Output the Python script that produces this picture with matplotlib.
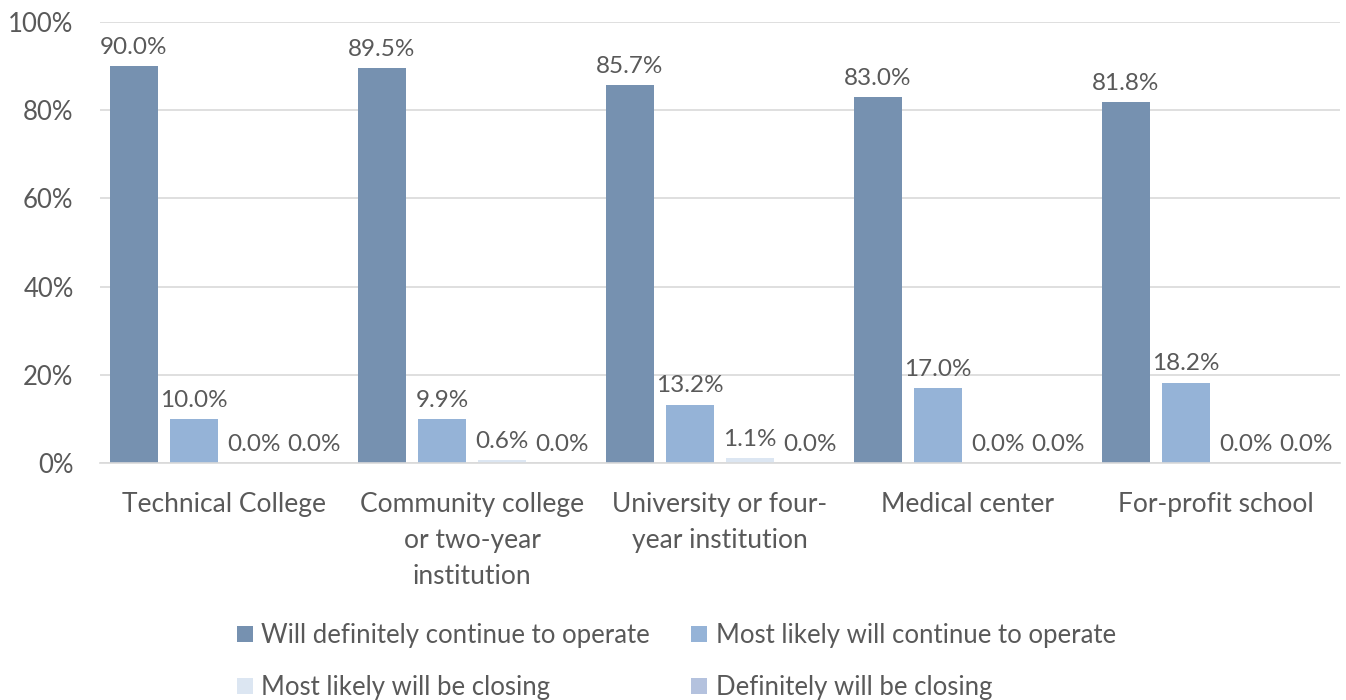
import numpy as np
import matplotlib.pyplot as plt

plt.rcParams['font.family'] = ['Lato', 'DejaVu Sans']

categories = ['Technical College', 'Community college\nor two-year\ninstitution',
              'University or four-\nyear institution', 'Medical center', 'For-profit school']
series = ['Will definitely continue to operate', 'Most likely will continue to operate',
          'Most likely will be closing', 'Definitely will be closing']
definitely_continue = [90.0, 89.5, 85.7, 83.0, 81.8]
likely_continue = [10.0, 9.9, 13.2, 17.0, 18.2]
likely_closing = [0.0, 0.6, 1.1, 0.0, 0.0]
definitely_closing = [0.0, 0.0, 0.0, 0.0, 0.0]
values = [definitely_continue, likely_continue, likely_closing, definitely_closing]
colors = ['#7691B0', '#95B3D7', '#DCE6F2', '#B4C2DE']

txt = '#595959'
fig = plt.figure(figsize=(13.46, 7), dpi=100)
ax = fig.add_axes([100/1346, 1-463/700, 1240/1346, 441/700])

x = np.arange(len(categories))
step = 0.242
width = 0.19
handles = []
for i, (vals, c, name) in enumerate(zip(values, colors, series)):
    pos = x + (i - 1.5) * step
    bars = ax.bar(pos, vals, width, color=c, label=name, zorder=2)
    handles.append(bars)
    for xp, v in zip(pos, vals):
        ax.annotate(f'{v:.1f}%', (xp, v), xytext=(0, 6), textcoords='offset points',
                    ha='center', va='bottom', fontsize=17.5, color=txt)

ax.set_xlim(-0.5, len(categories) - 0.5)
ax.set_ylim(0, 100)
ax.set_yticks(range(0, 101, 20))
ax.set_yticklabels([f'{t}%' for t in range(0, 101, 20)])
ax.set_xticks(x)
ax.set_xticklabels(categories, linespacing=1.55)
ax.tick_params(length=0, labelsize=18.5, colors=txt)
ax.tick_params(axis='x', labelsize=19, pad=21)
ax.tick_params(axis='y', pad=19)
ax.grid(axis='y', color='#D9D9D9', lw=1.2, zorder=0)
for s in ['top', 'right', 'left']:
    ax.spines[s].set_visible(False)
ax.spines['bottom'].set_color('#D9D9D9')
ax.spines['bottom'].set_linewidth(1.2)

# legend filled row by row, as in the original
order = [0, 2, 1, 3]
fig.legend([handles[k] for k in order], [series[k] for k in order],
           loc='upper left', bbox_to_anchor=(214/1346, 1-600/700), ncol=2, frameon=False,
           fontsize=18.5, labelcolor=txt, handlelength=0.62, handleheight=0.62,
           handletextpad=0.32, columnspacing=1.61, labelspacing=1.05)

fig.savefig('out.png', dpi=100)
